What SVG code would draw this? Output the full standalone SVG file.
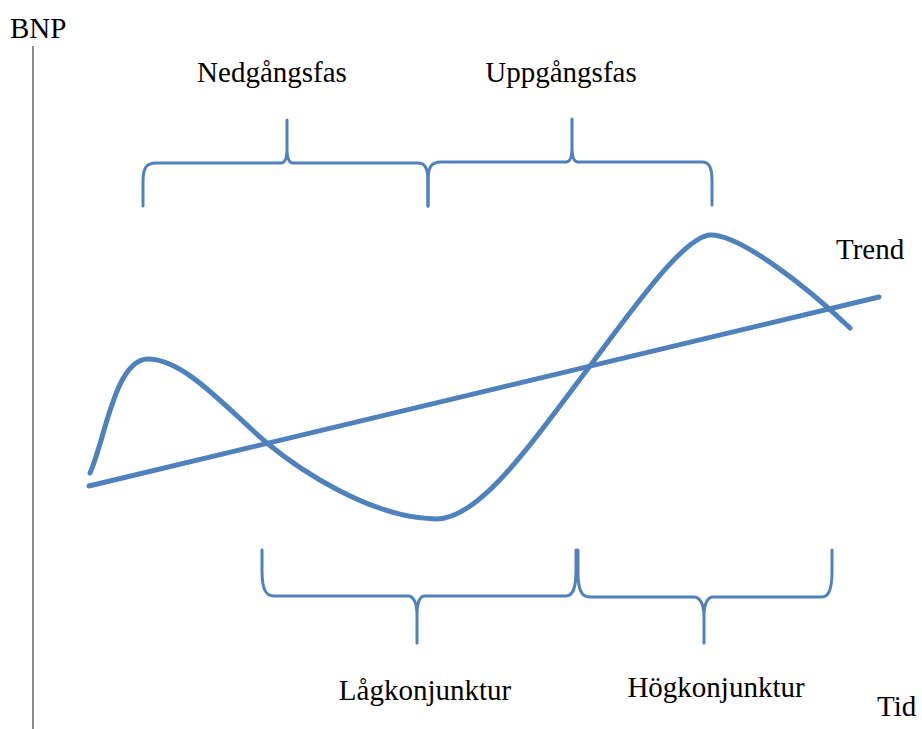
<svg xmlns="http://www.w3.org/2000/svg" width="922" height="729" viewBox="0 0 922 729">
<style>
.lbl{font-family:"Liberation Serif","Times New Roman",serif;font-size:29px;fill:#000}
.brace{fill:none;stroke:#4F81BD;stroke-width:3;stroke-linecap:round;stroke-linejoin:round}
.line{fill:none;stroke:#4F81BD;stroke-width:5;stroke-linecap:round;stroke-linejoin:round}
</style>
<rect width="922" height="729" fill="#fff"/>
<g id="axis">
<line x1="33" y1="46" x2="33" y2="729" stroke="#8c8c8c" stroke-width="2"/>
<text class="lbl" x="10" y="38">BNP</text>
<text class="lbl" x="877" y="716">Tid</text>
</g>
<g id="connectors">
<path id="trend-line" class="line" d="M89,486 L879,297"/>
<path id="cycle" class="line" d="M90,473 C105,440 115,359 148,359 C185,359 228,410 267,443 C297,468 370,518 436,519 C480,519 530,445 590,366 C635,306 685,235 711,235 C740,235 805,285 850,328"/>
</g>
<g id="trend">
<text class="lbl" x="836" y="259">Trend</text>
</g>
<g id="nedgangsfas">
<path class="brace" d="M143,206 L143,182 C143,168 146,163 156,163 L281,163 C285,163 287,159 287,148 L287,120 M287,148 C287,159 289,163 293,163 L418,163 C425,163 428,168 428,182 L428,206"/>
<text class="lbl" x="272" y="82" text-anchor="middle">Nedgångsfas</text>
</g>
<g id="uppgangsfas">
<path class="brace" d="M428,206 L428,182 C428,167 431,162 441,162 L566,162 C570,162 572,158 572,147 L572,119 M572,147 C572,158 574,162 578,162 L702,162 C709,162 712,167 712,181 L712,205"/>
<text class="lbl" x="561" y="82" text-anchor="middle">Uppgångsfas</text>
</g>
<g id="lagkonjunktur">
<path class="brace" d="M262,550 L262,570 C262,588 265,596 274,596 L408,596 C413,596 417,602 417,615 L417,643 M417,615 C417,602 420,596 425,596 L566,596 C573,596 576,588 576,570 L576,550"/>
<text class="lbl" x="425" y="700" text-anchor="middle">Lågkonjunktur</text>
</g>
<g id="hogkonjunktur">
<path class="brace" d="M578,550 L578,572 C578,589 581,597 590,597 L694,597 C699,597 704,603 704,616 L704,643 M704,616 C704,603 708,597 713,597 L822,597 C829,597 832,589 832,572 L832,550"/>
<text class="lbl" x="716" y="697" text-anchor="middle">Högkonjunktur</text>
</g>
</svg>
